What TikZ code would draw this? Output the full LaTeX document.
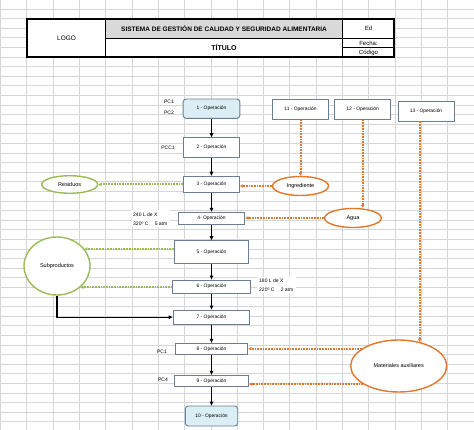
\documentclass[tikz,border=0pt]{standalone}
\usepackage{fontspec}
\setmainfont{Liberation Sans}
\usetikzlibrary{arrows.meta,shapes.geometric}
\definecolor{gridc}{HTML}{D6D6D6}
\definecolor{boxb}{HTML}{6A7E96}
\definecolor{boxfill}{HTML}{DBEEF4}
\definecolor{orng}{HTML}{E0782E}
\definecolor{grn}{HTML}{9BBB59}
\definecolor{hdrgray}{HTML}{D9D9D9}
\begin{document}
\begin{tikzpicture}[x=1pt,y=-1pt,
  cell/.style={draw=black,line width=1.1pt,fill=white,rectangle,anchor=north west,inner sep=0pt,font=\fontsize{6}{7}\selectfont},
  op/.style={draw=boxb,line width=0.9pt,fill=white,rectangle,inner sep=0pt,font=\fontsize{4.9}{5.5}\selectfont},
  opr/.style={op,fill=boxfill,rounded corners=3pt},
  ovo/.style={ellipse,draw=orng,line width=1.4pt,fill=white,inner sep=0pt,font=\fontsize{5.5}{6.5}\selectfont},
  ovg/.style={ellipse,draw=grn,line width=1.4pt,fill=white,inner sep=0pt,font=\fontsize{5.5}{6.5}\selectfont},
  lbl/.style={font=\fontsize{5}{6}\selectfont,inner sep=0pt},
  note/.style={font=\fontsize{5}{9}\selectfont,fill=white,inner xsep=2.5pt,inner ysep=2pt,align=left,anchor=west},
  flow/.style={line width=1.3pt,-{Triangle[length=4pt,width=3.5pt]}},
  dso/.style={draw=orng,line width=2pt,dash pattern=on 1.7pt off 1pt,-{Triangle[length=3pt,width=3.2pt]}},
  dsg/.style={draw=grn,line width=2pt,dash pattern=on 1.7pt off 1pt,-{Triangle[length=3pt,width=3.2pt]}}
]
\useasboundingbox (0,0) rectangle (474,430);
\fill[white] (0,0) rectangle (474,430);
% spreadsheet grid
\foreach \i in {0,...,18} \draw[gridc,line width=0.5pt] ({0.4+26.3*\i},0) -- ++(0,430);
\foreach \j in {0,...,45} \draw[gridc,line width=0.5pt] (0,{-0.7+9.6*\j}) -- ++(474,0);

% header table
\node[cell,minimum width=78pt,minimum height=38.5pt,font=\fontsize{6.5}{7}\selectfont] (logo) at (27,18.5) {LOGO};
\node[cell,fill=hdrgray,minimum width=237pt,minimum height=19.2pt,font=\fontsize{6.5}{7}\selectfont\bfseries] (sys) at (105,18.5) {SISTEMA DE GESTIÓN DE CALIDAD Y SEGURIDAD ALIMENTARIA};
\node[cell,minimum width=237pt,minimum height=19.3pt,font=\fontsize{7}{8}\selectfont\bfseries] (tit) at (105,37.7) {TÍTULO};
\node[cell,minimum width=52pt,minimum height=19.2pt] (ed) at (342,18.5) {Ed};
\node[cell,line width=0.9pt,minimum width=52pt,minimum height=9.8pt] (fecha) at (342,37.7) {Fecha:};
\node[cell,line width=0.9pt,minimum width=52pt,minimum height=9.5pt] (cod) at (342,47.5) {Código};
\draw[line width=1.2pt] (27,18.5) rectangle (394,57);

% main column
\node[opr,minimum width=56.7pt,minimum height=19.3pt] (b1) at (211.5,108.7) {1 - Operación};
\node[op,minimum width=55.3pt,minimum height=20pt] (b2) at (211.5,147.7) {2 - Operación};
\node[op,minimum width=56pt,minimum height=16.7pt] (b3) at (211.5,184.5) {3 - Operación};
\node[op,minimum width=66.7pt,minimum height=12pt] (b4) at (211.5,218.3) {4- Operación};
\node[op,minimum width=74.7pt,minimum height=23.3pt] (b5) at (211.5,252.3) {5 - Operación};
\node[op,minimum width=77.3pt,minimum height=13.3pt] (b6) at (211.5,286.7) {6 - Operación};
\node[op,minimum width=76.7pt,minimum height=14.3pt] (b7) at (211.5,317.2) {7 - Operación};
\node[op,minimum width=72.7pt,minimum height=11pt] (b8) at (211.5,348.8) {8 - Operación};
\node[op,minimum width=74.3pt,minimum height=11.4pt] (b9) at (211.5,381) {9 - Operación};
\node[opr,minimum width=52.4pt,minimum height=20pt] (b10) at (211.5,416) {10 - Operación};

% upper right
\node[op,minimum width=56.7pt,minimum height=20pt] (b11) at (300.5,109.3) {11 - Operación};
\node[op,minimum width=56pt,minimum height=20pt] (b12) at (362.7,109.3) {12 - Operación};
\node[op,minimum width=56pt,minimum height=20pt] (b13) at (426,111) {13 - Operación};

% ellipses
\node[ovo,minimum width=56pt,minimum height=19pt] (ing) at (300.5,186) {Ingrediente};
\node[ovo,minimum width=56.7pt,minimum height=19pt] (agua) at (353,218) {Agua};
\node[ovo,minimum width=96pt,minimum height=52pt] (mat) at (398.7,366) {Materiales auxiliares};
\node[ovg,minimum width=56pt,minimum height=17.6pt] (res) at (69.7,184.5) {Residuos};
\node[ovg,minimum width=66pt,minimum height=58pt] (sub) at (57,266) {Subproductos};

% side labels
\node[lbl] (pc1a) at (169,102) {PC1};
\node[lbl] (pc2) at (169,113) {PC2};
\node[lbl] (pcc1) at (168,148) {PCC1};
\node[lbl] (pc1b) at (162,352) {PC1};
\node[lbl] (pc4) at (163,380) {PC4};
\node[note] (n1) at (130.5,218.8) {240 L de X\\320º C\hspace{5pt} 5 atm};
\node[note] (n2) at (256.5,285) {180 L de X\\220º C\hspace{5pt} 2 atm};

% main flow arrows
\draw[flow] (b1) -- (b2);
\draw[flow] (b2) -- (b3);
\draw[flow] (b3) -- (b4);
\draw[flow] (b4) -- (b5);
\draw[flow] (b5) -- (b6);
\draw[flow] (b6) -- (b7);
\draw[flow] (b7) -- (b8);
\draw[flow] (b8) -- (b9);
\draw[flow] (b9) -- (b10);
\draw[flow] (sub.south) |- (b7.west);

% orange inputs
\draw[dso] (b11.south) -- (ing.north);
\draw[dso] (ing.west) -- (ing.west -| b3.east);
\draw[dso] (b12.south) -- (b12.south |- agua.north);
\draw[dso] (agua.west) -- (agua.west -| b4.east);
\draw[dso] (mat.49 |- b13.south) -- (mat.49);
\draw[dso] (mat.155) -- (mat.155 -| b8.east);
\draw[dso] (mat.207) -- (mat.207 -| b9.east);

% green outputs
\draw[dsg] (b3.west) -- (res.east);
\draw[dsg] (sub.32 -| b5.west) -- (sub.32);
\draw[dsg] (sub.318 -| b6.west) -- (sub.318);
\end{tikzpicture}
\end{document}
